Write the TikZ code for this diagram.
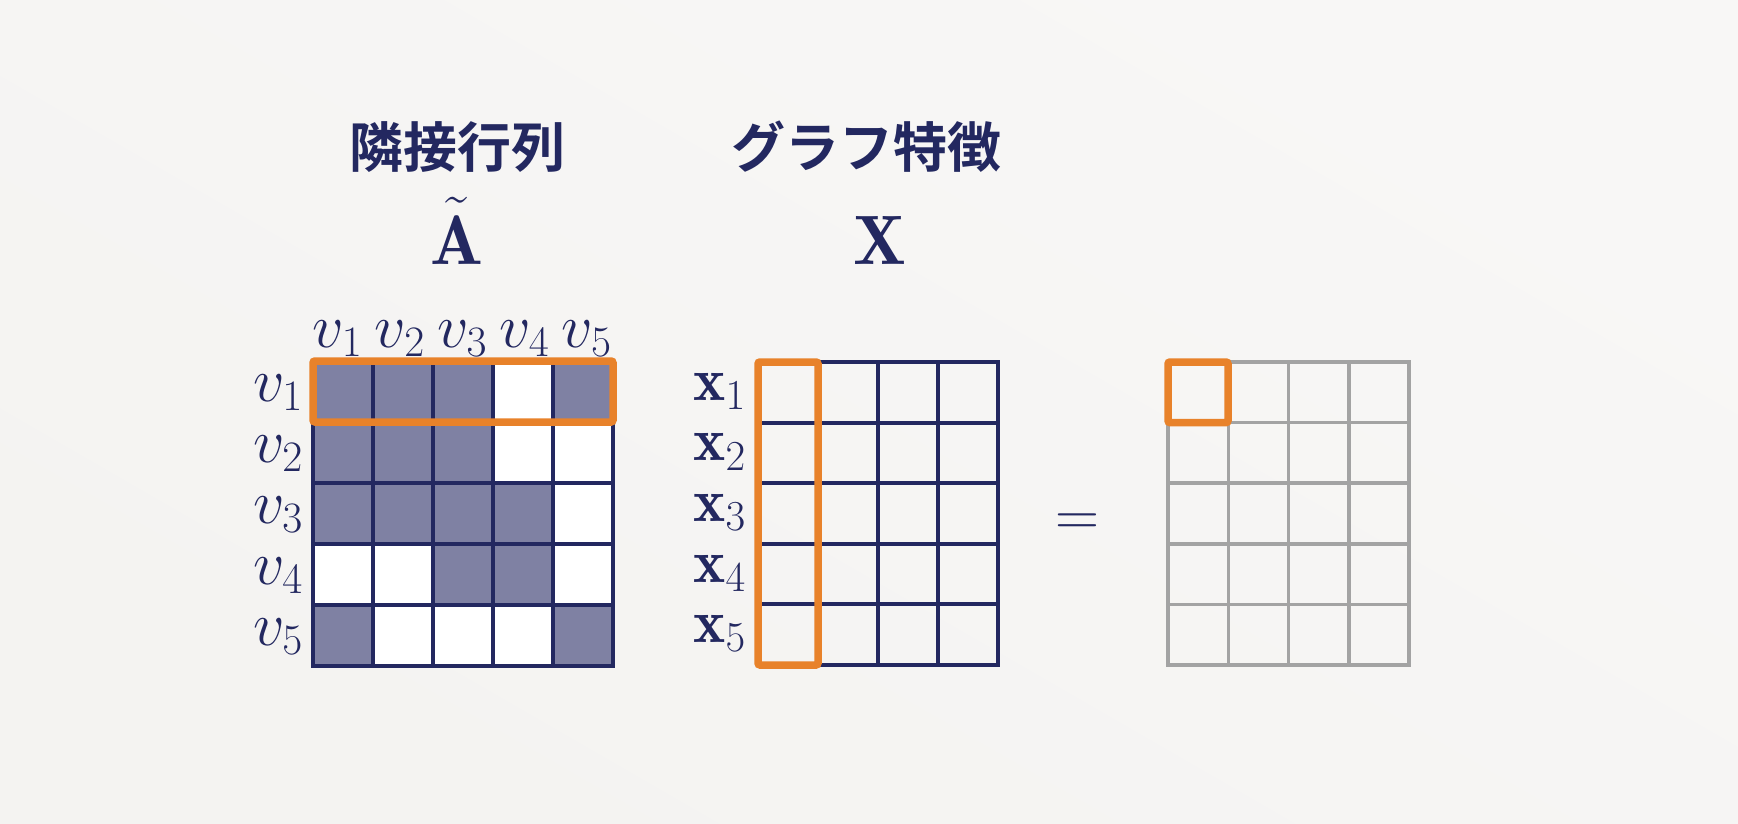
\RequirePackage{fix-cm}
\documentclass[tikz,border=0pt]{standalone}
\usepackage{fontspec}
\newfontfamily\cjkbold{Noto Sans CJK JP Bold}
\definecolor{navy}{HTML}{232860}
\definecolor{afill}{HTML}{7F81A3}
\definecolor{orng}{HTML}{E8822A}
\definecolor{gridgray}{HTML}{A3A3A3}
\definecolor{bgA}{HTML}{F4F3F1}
\definecolor{bgB}{HTML}{F8F7F6}
\begin{document}
\begin{tikzpicture}[x=1pt,y=-1pt,
  navyline/.style={draw=navy,line width=4pt,line cap=rect},
  grayline/.style={draw=gridgray,line width=3.5pt,line cap=rect},
  orangebox/.style={draw=orng,line width=7.5pt,rounded corners=2pt},
  title/.style={text=navy,inner sep=0pt,font=\cjkbold\fontsize{54}{60}\selectfont},
  vlbl/.style={text=navy,inner sep=0pt,font=\fontsize{62}{66}\selectfont},
  xlbl/.style={text=navy,inner sep=0pt,font=\fontsize{61}{66}\selectfont},
  symlbl/.style={text=navy,inner sep=0pt,font=\fontsize{70}{76}\selectfont}]
\shade[bottom color=bgA, top color=bgB, shading angle=-30] (0,0) rectangle (1738,824);
\useasboundingbox (0,0) rectangle (1738,824);

% titles
\node[title] (tA) at (457,147) {隣接行列};
\node[title] (tX) at (866.5,147) {グラフ特徴};
\node[symlbl,anchor=base] (symA) at (457,264) {$\mathbf{A}$};
\node[symlbl,anchor=north] (tld) at (457,197) {\char"02DC};
\node[symlbl,anchor=base] (symX) at (880,264) {$\mathbf{X}$};

% adjacency matrix
\fill[white] (313,361) rectangle (613,666);
\foreach \r/\c in {0/0,0/1,0/2,0/4,1/0,1/1,1/2,2/0,2/1,2/2,2/3,3/2,3/3,4/0,4/4}
  \fill[afill] ({313+60*\c},{361+61*\r}) rectangle ++(60,61);
\foreach \i in {0,...,5} \draw[navyline] ({313+60*\i},361) -- ({313+60*\i},666);
\foreach \j in {0,...,5} \draw[navyline] (313,{361+61*\j}) -- (613,{361+61*\j});
\draw[orangebox] (313,361) rectangle (613,422);
\foreach \i in {1,...,5} {
  \node[vlbl,anchor=base] (c\i) at ({337.5+62.3*(\i-1)},347) {$v_{\i}$};
  \node[vlbl,anchor=base east] (r\i) at (303,{391.5+61*(\i-1)+10}) {$v_{\i}$};
}

% feature matrix
\foreach \i in {0,...,4} \draw[navyline] ({758+60*\i},362) -- ({758+60*\i},665);
\foreach \j in {0,...,5} \draw[navyline] (758,{362+60.6*\j}) -- (998,{362+60.6*\j});
\draw[orangebox] (758,362) rectangle (818,665);
\foreach \i in {1,...,5}
  \node[xlbl,anchor=base east] (x\i) at (746,{392.3+60.6*(\i-1)+8}) {$\mathbf{x}_{\i}$};

% equals
\node[xlbl,anchor=base] (eq) at (1077,535) {$=$};

% result matrix
\foreach \i in {0,...,4} \draw[grayline] ({1168+60.25*\i},362) -- ({1168+60.25*\i},665);
\foreach \j in {0,...,5} \draw[grayline] (1168,{362+60.6*\j}) -- (1409,{362+60.6*\j});
\draw[orangebox] (1168,362) rectangle (1228,422.6);
\end{tikzpicture}
\end{document}
